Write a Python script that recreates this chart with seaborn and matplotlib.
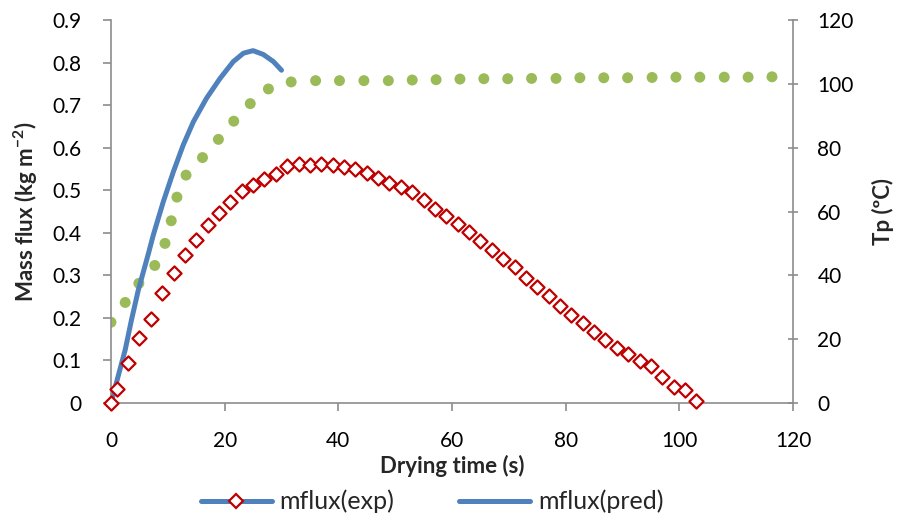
import matplotlib
matplotlib.use("Agg")
import matplotlib.pyplot as plt
from matplotlib.lines import Line2D
from matplotlib.ticker import FuncFormatter, MultipleLocator
import seaborn as sns
import pandas as pd

# ---- data ----
t_exp = [0, 1, 3, 5, 7, 9, 11, 13, 15, 17, 19, 21, 23, 25, 27, 29, 31, 33, 35, 37,
         39, 41, 43, 45, 47, 49, 51, 53, 55, 57, 59, 61, 63, 65, 67, 69, 71, 73, 75,
         77, 79, 81, 83, 85, 87, 89, 91, 93, 95, 97, 99, 101, 103]
mflux_exp = [0.0, 0.033, 0.095, 0.153, 0.198, 0.258, 0.305, 0.348, 0.383, 0.418,
             0.446, 0.472, 0.498, 0.512, 0.526, 0.538, 0.557, 0.561, 0.560, 0.561,
             0.560, 0.555, 0.550, 0.540, 0.528, 0.518, 0.508, 0.497, 0.477, 0.457,
             0.439, 0.421, 0.402, 0.381, 0.359, 0.338, 0.319, 0.294, 0.273, 0.251,
             0.229, 0.207, 0.187, 0.168, 0.148, 0.130, 0.114, 0.099, 0.088, 0.062,
             0.038, 0.031, 0.005]

t_pred = [0, 1.2, 2.5, 3.6, 4.8, 6.6, 7.45, 9.2, 10.96, 12.7, 14.5, 16.8, 19.2,
          21.5, 23.3, 25.0, 26.8, 28.6, 30.0]
mflux_pred = [0.0, 0.06, 0.125, 0.195, 0.265, 0.352, 0.395, 0.473, 0.543, 0.606,
              0.661, 0.716, 0.763, 0.802, 0.822, 0.828, 0.819, 0.802, 0.782]

t_tp = [0, 2.5, 4.9, 7.7, 9.5, 10.6, 11.6, 13.2, 16.1, 18.9, 21.6, 24.5, 27.7, 31.7,
        36.0, 40.2, 44.5, 48.8, 53.0, 57.2, 61.4, 65.6, 69.8, 74.0, 78.3, 82.5, 86.7,
        90.9, 95.2, 99.4, 103.6, 107.9, 112.1, 116.3]
tp = [25.3, 31.5, 37.5, 43.1, 50.0, 57.1, 64.5, 71.4, 76.9, 82.6, 88.3, 93.8, 98.4,
      100.6, 101.0, 101.0, 101.0, 101.0, 101.2, 101.3, 101.5, 101.6, 101.6, 101.7,
      101.7, 101.9, 101.9, 101.9, 102.0, 102.1, 102.1, 102.1, 102.1, 102.2]

x_ticks = [0, 20, 40, 60, 80, 100, 120]
legend_labels = ["mflux(exp)", "mflux(pred)"]

df_exp = pd.DataFrame({"t": t_exp, "m": mflux_exp})
df_pred = pd.DataFrame({"t": t_pred, "m": mflux_pred})
df_tp = pd.DataFrame({"t": t_tp, "tp": tp})

# ---- style ----
sns.set_theme(style="white")
plt.rcParams["font.family"] = ["Lato", "DejaVu Sans"]
plt.rcParams["mathtext.fontset"] = "custom"
plt.rcParams["mathtext.rm"] = "Lato"
plt.rcParams["mathtext.bf"] = "Lato:bold"

BLUE = "#4F81BD"
RED = "#C00000"
GREEN = "#9BBB59"
GREY = "#8C8C8C"

fig = plt.figure(figsize=(8.98, 5.17), dpi=100)
ax = fig.add_axes([0.1236, 0.2205, 0.7595, 0.7408])
ax2 = ax.twinx()

# secondary axis (green dots) behind
sns.scatterplot(data=df_tp, x="t", y="tp", ax=ax2, color=GREEN, s=62,
                edgecolor="none", linewidth=0, legend=False, zorder=2)

sns.lineplot(data=df_pred, x="t", y="m", ax=ax, color=BLUE, linewidth=3.6,
             sort=True, estimator=None, legend=False, zorder=2,
             solid_capstyle="round", solid_joinstyle="round")
sns.scatterplot(data=df_exp, x="t", y="m", ax=ax, marker="D", s=52,
                facecolor="white", edgecolor=RED, linewidth=1.6, legend=False,
                zorder=3, clip_on=False)

ax.set_zorder(ax2.get_zorder() + 1)
ax.patch.set_visible(False)

# axes limits / ticks
ax.set_xlim(0, 120)
ax.set_ylim(0, 0.9)
ax2.set_ylim(0, 120)
ax.set_xticks(x_ticks)
ax.yaxis.set_major_locator(MultipleLocator(0.1))
ax2.yaxis.set_major_locator(MultipleLocator(20))
ax.yaxis.set_major_formatter(FuncFormatter(lambda v, p: "0" if abs(v) < 1e-9 else f"{v:.1f}"))

for a in (ax, ax2):
    for s in a.spines.values():
        s.set_color(GREY)
        s.set_linewidth(1.2)
    a.spines["top"].set_visible(False)
    a.grid(False)

ax.spines["right"].set_visible(False)
ax2.spines["left"].set_visible(False)
ax2.spines["bottom"].set_visible(False)

TICK_FS = 15
ax.tick_params(axis="both", which="major", direction="out", length=6, width=1.2,
               color=GREY, labelsize=TICK_FS, labelcolor="black")
ax.tick_params(axis="y", left=True, pad=15)
ax.tick_params(axis="x", bottom=True, pad=14)
ax2.tick_params(axis="y", which="major", direction="inout", length=7, width=1.2,
                color=GREY, labelsize=TICK_FS, labelcolor="black", pad=14, right=True)

LAB_FS = 16
ax.set_xlabel("Drying time (s)", fontsize=LAB_FS, fontweight="bold", labelpad=3)
ax.set_ylabel("Mass flux (kg m$^{\\mathbf{-2}}$)", fontsize=LAB_FS,
              fontweight="bold", labelpad=9)
ax2.set_ylabel("Tp (ºC)", fontsize=LAB_FS, fontweight="bold", labelpad=13)

# legend
h_exp = Line2D([], [], color=BLUE, linewidth=3.6, marker="D", markersize=7,
               markerfacecolor="white", markeredgecolor=RED, markeredgewidth=1.6,
               solid_capstyle="round")
h_pred = Line2D([], [], color=BLUE, linewidth=3.6, solid_capstyle="round")
fig.legend([h_exp, h_pred], legend_labels, loc="center",
           bbox_to_anchor=(0.481, 0.03), ncol=2, frameon=False, fontsize=18,
           handlelength=2.85, columnspacing=2.6, handletextpad=0.3,
           borderpad=0.1)

fig.savefig("out.png", dpi=100)
